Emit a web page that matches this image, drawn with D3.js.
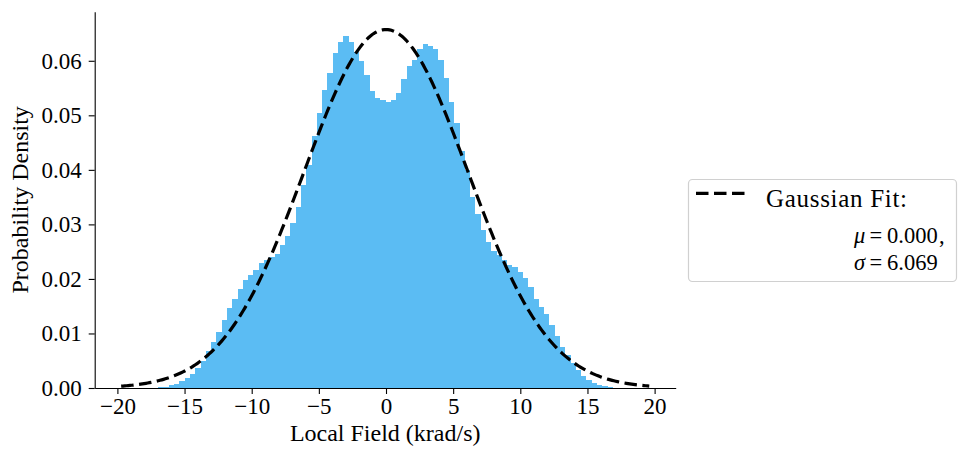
<!DOCTYPE html>
<html>
<head>
<meta charset="utf-8">
<script src="https://cdn.jsdelivr.net/npm/d3@7"></script>
<style>
  body { margin: 0; background: #fff; }
  text { font-family: "Liberation Serif", "Times New Roman", serif; fill: #000; }
</style>
</head>
<body>
<script>
// histogram of local field (density, bins of equal width)
var binStart = -16.95;
var binWidth = 0.3935;
var density = [
  0.0001, 0.0002, 0.0005, 0.0007, 0.0012, 0.0018, 0.0026, 0.0036, 0.0050, 0.0067,
  0.0085, 0.0103, 0.0125, 0.0146, 0.0163, 0.0181, 0.0198, 0.0207, 0.0217, 0.0229,
  0.0235, 0.0240, 0.0246, 0.0262, 0.0279, 0.0303, 0.0332, 0.0372, 0.0409, 0.0462,
  0.0504, 0.0547, 0.0578, 0.0614, 0.0634, 0.0645, 0.0635, 0.0617, 0.0599, 0.0574,
  0.0544, 0.0532, 0.0528, 0.0525, 0.0528, 0.0541, 0.0567, 0.0591, 0.0602, 0.0622,
  0.0631, 0.0627, 0.0621, 0.0602, 0.0568, 0.0524, 0.0486, 0.0435, 0.0400, 0.0351,
  0.0319, 0.0290, 0.0268, 0.0252, 0.0243, 0.0235, 0.0226, 0.0221, 0.0212, 0.0201,
  0.0186, 0.0164, 0.0148, 0.0135, 0.0116, 0.0096, 0.0076, 0.0061, 0.0045, 0.0033,
  0.0022, 0.0014, 0.0009, 0.0006, 0.0004, 0.0002
];

// gaussian fit parameters
var fitMu = 0.000;
var fitSigma = 6.069;
var fitRange = [-19.72, 19.60];

var xTicks = [-20, -15, -10, -5, 0, 5, 10, 15, 20];
var yTicks = [0.00, 0.01, 0.02, 0.03, 0.04, 0.05, 0.06];

var width = 959, height = 450;
var plot = { left: 94.7, right: 675.7, top: 11.7, bottom: 388 };
var serif = '"Liberation Serif", "Times New Roman", serif';

var svg = d3.select('body').append('svg')
  .attr('width', width)
  .attr('height', height);

var x = d3.scaleLinear().domain([-21.69, 21.57]).range([plot.left, plot.right]);
var y = d3.scaleLinear().domain([0, 0.069]).range([plot.bottom, plot.top]);

// bars
svg.append('g')
  .selectAll('rect').data(density)
  .enter().append('rect')
  .attr('x', function(d, i) { return x(binStart + i * binWidth); })
  .attr('width', function(d, i) { return x(binStart + (i + 1) * binWidth) - x(binStart + i * binWidth); })
  .attr('y', function(d) { return y(d); })
  .attr('height', function(d) { return y(0) - y(d); })
  .attr('fill', '#5bbcf3')
  .attr('shape-rendering', 'crispEdges');

// gaussian fit curve
var nPts = 300;
var fitPts = d3.range(nPts).map(function(i) {
  var xv = fitRange[0] + (fitRange[1] - fitRange[0]) * i / (nPts - 1);
  var yv = Math.exp(-Math.pow(xv - fitMu, 2) / (2 * fitSigma * fitSigma)) / (fitSigma * Math.sqrt(2 * Math.PI));
  return [xv, yv];
});

var line = d3.line()
  .x(function(d) { return x(d[0]); })
  .y(function(d) { return y(d[1]); });

svg.append('path')
  .datum(fitPts)
  .attr('d', line)
  .attr('fill', 'none')
  .attr('stroke', '#000')
  .attr('stroke-width', 3.2)
  .attr('stroke-dasharray', '12.5,5.5');

// axes
var xAxis = svg.append('g')
  .attr('transform', 'translate(0,' + plot.bottom + ')')
  .call(d3.axisBottom(x).tickValues(xTicks).tickSize(6).tickSizeOuter(0).tickPadding(4)
    .tickFormat(d3.format('d')));

var yAxis = svg.append('g')
  .attr('transform', 'translate(' + plot.left + ',0)')
  .call(d3.axisLeft(y).tickValues(yTicks).tickSize(6).tickSizeOuter(0).tickPadding(7)
    .tickFormat(d3.format('.2f')));

[xAxis, yAxis].forEach(function(a) {
  a.selectAll('text').style('font-size', '23px').attr('fill', '#000')
    .style('font-family', serif);
  a.selectAll('line').attr('stroke', '#000').attr('stroke-width', 1.1);
  a.select('.domain').attr('stroke', '#000').attr('stroke-width', 1.1);
});

// axis labels
svg.append('text')
  .attr('x', (plot.left + plot.right) / 2)
  .attr('y', 441)
  .attr('text-anchor', 'middle')
  .style('font-size', '24px')
  .text('Local Field (krad/s)');

svg.append('text')
  .attr('transform', 'translate(28,' + (plot.top + plot.bottom) / 2 + ') rotate(-90)')
  .attr('text-anchor', 'middle')
  .style('font-size', '24px')
  .text('Probability Density');

// legend
var lg = svg.append('g');
lg.append('rect')
  .attr('x', 688.5).attr('y', 179.5)
  .attr('width', 268).attr('height', 102)
  .attr('rx', 4)
  .attr('fill', '#fff')
  .attr('stroke', '#d0d0d0')
  .attr('stroke-width', 1.2);

lg.append('line')
  .attr('x1', 696).attr('x2', 745)
  .attr('y1', 193.3).attr('y2', 193.3)
  .attr('stroke', '#000')
  .attr('stroke-width', 3.2)
  .attr('stroke-dasharray', '12.5,5.5');

lg.append('text')
  .attr('x', 766).attr('y', 206.7)
  .style('font-size', '25px')
  .style('letter-spacing', '0.7px')
  .text('Gaussian Fit:');

// math-style lines: symbol, equals sign, value, placed piece by piece
function mathLine(sym, val, tail, yb) {
  var t = lg.append('text').attr('y', yb)
    .style('font-size', '22.5px').style('font-family', serif);
  t.append('tspan').attr('x', 854).style('font-style', 'italic').text(sym);
  t.append('tspan').attr('x', 869.5).text('=');
  t.append('tspan').attr('x', 887).text(d3.format('.3f')(val));
  if (tail) t.append('tspan').attr('x', 939).text(tail);
}
mathLine('\u03bc', fitMu, ',', 243.3);
mathLine('\u03c3', fitSigma, null, 270);
</script>
</body>
</html>
